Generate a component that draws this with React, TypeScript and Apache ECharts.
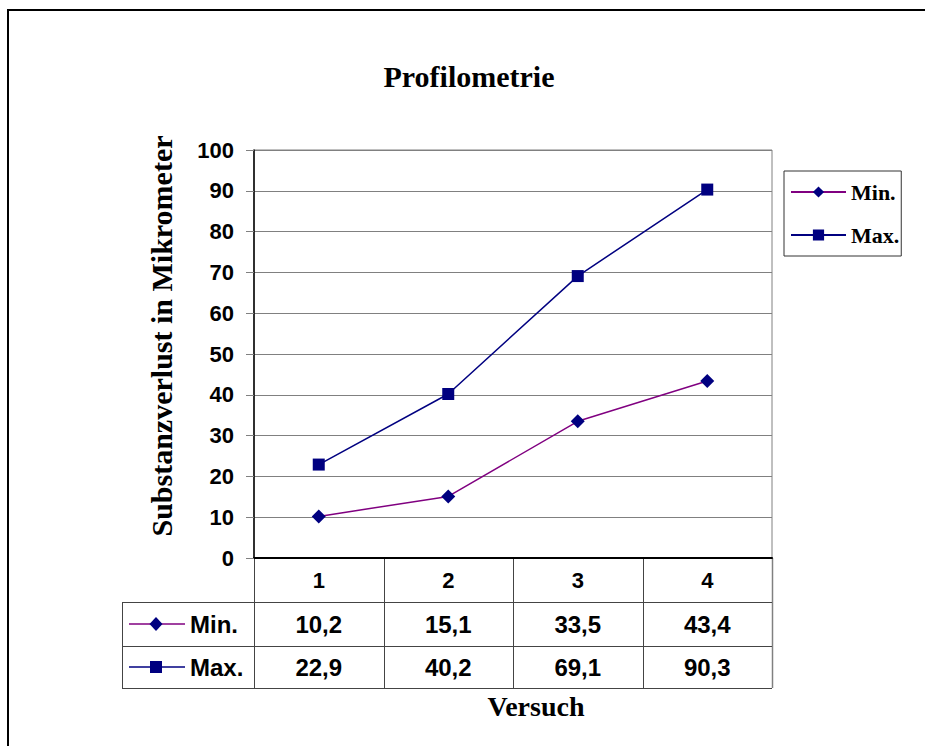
import React, { useEffect, useRef } from 'react';
import * as echarts from 'echarts';

const categories = ['1', '2', '3', '4'];
const minValues = [10.2, 15.1, 33.5, 43.4];
const maxValues = [22.9, 40.2, 69.1, 90.3];
const seriesNames = ['Min.', 'Max.'];
const titleText = 'Profilometrie';
const yAxisTitle = 'Substanzverlust in Mikrometer';
const xAxisTitle = 'Versuch';

const SERIF = '"Liberation Serif", "Times New Roman", serif';
const SANS = '"Liberation Sans", Arial, sans-serif';
const MIN_LINE = '#800080';
const NAVY = '#000080';

const fmt = (v: number) => v.toFixed(1).replace('.', ',');

export default function App() {
  const ref = useRef<HTMLDivElement>(null);
  useEffect(() => {
    const chart = echarts.init(ref.current!, null, { renderer: 'svg' });
    chart.setOption({
      animation: false,
      backgroundColor: '#fff',
      title: {
        text: titleText,
        left: 464,
        textAlign: 'center',
        top: 56,
        textStyle: { fontFamily: SERIF, fontWeight: 'bold', fontSize: 30, color: '#000' },
      },
      legend: {
        left: 784,
        top: 171,
        orient: 'vertical',
        data: seriesNames,
        itemWidth: 55,
        itemHeight: 14,
        itemGap: 21,
        padding: [10, 2, 10, 6],
        borderColor: '#333',
        borderWidth: 1,
        textStyle: { fontFamily: SERIF, fontWeight: 'bold', fontSize: 22, color: '#000' },
      },
      grid: {
        left: 254,
        right: 153,
        top: 150,
        bottom: 188,
        show: true,
        borderColor: '#808080',
        borderWidth: 1,
      },
      xAxis: {
        type: 'category',
        data: categories,
        boundaryGap: true,
        axisLine: { lineStyle: { color: '#000', width: 2 } },
        axisTick: { show: false },
        axisLabel: { fontFamily: SANS, fontWeight: 'bold', fontSize: 22, color: '#000', margin: 11 },
        splitLine: { show: false },
      },
      yAxis: {
        type: 'value',
        min: 0,
        max: 100,
        interval: 10,
        axisLine: { show: true, lineStyle: { color: '#000', width: 1.5 } },
        axisTick: { show: true, length: 8, lineStyle: { color: '#808080' } },
        axisLabel: { fontFamily: SANS, fontWeight: 'bold', fontSize: 22, color: '#000', margin: 20 },
        splitLine: { show: true, lineStyle: { color: '#808080', width: 1 } },
      },
      series: [
        {
          name: seriesNames[0],
          type: 'line',
          data: minValues,
          symbol: 'diamond',
          symbolSize: 14,
          lineStyle: { color: MIN_LINE, width: 1.5 },
          itemStyle: { color: NAVY },
        },
        {
          name: seriesNames[1],
          type: 'line',
          data: maxValues,
          symbol: 'rect',
          symbolSize: 12,
          lineStyle: { color: NAVY, width: 1.5 },
          itemStyle: { color: NAVY },
        },
      ],
    });

    const centers = categories.map((c) => chart.convertToPixel({ xAxisIndex: 0 }, c) as number);
    const band = centers[1] - centers[0];
    const yZero = chart.convertToPixel({ yAxisIndex: 0 }, 0) as number;
    const leftEdge = centers[0] - band / 2;
    const rightEdge = centers[centers.length - 1] + band / 2;
    const tableLeft = 122;
    const rowTop = [yZero + 44, yZero + 88];
    const tableBottom = yZero + 130;
    const rowCenters = [(rowTop[0] + rowTop[1]) / 2, (rowTop[1] + tableBottom) / 2];
    const gridStroke = { stroke: '#444', lineWidth: 1 };

    const g: any[] = [];
    g.push({
      type: 'rect',
      shape: { x: 8, y: 10, width: 1000, height: 1000 },
      style: { fill: 'none', stroke: '#000', lineWidth: 2 },
      silent: true,
    });
    for (let i = 0; i <= categories.length; i++) {
      const x = Math.round(leftEdge + i * band) + 0.5;
      g.push({
        type: 'line',
        shape: { x1: x, y1: yZero, x2: x, y2: tableBottom },
        style: i === categories.length ? { stroke: '#808080', lineWidth: 1.5 } : gridStroke,
      });
    }
    g.push({
      type: 'line',
      shape: { x1: tableLeft + 0.5, y1: rowTop[0], x2: tableLeft + 0.5, y2: tableBottom },
      style: gridStroke,
    });
    [rowTop[0], rowTop[1], tableBottom].forEach((y) => {
      g.push({
        type: 'line',
        shape: { x1: tableLeft, y1: Math.round(y) + 0.5, x2: rightEdge, y2: Math.round(y) + 0.5 },
        style: gridStroke,
      });
    });
    const rows = [
      { name: seriesNames[0], values: minValues, line: MIN_LINE, sym: 'diamond' },
      { name: seriesNames[1], values: maxValues, line: NAVY, sym: 'rect' },
    ];
    rows.forEach((r, ri) => {
      const cy = rowCenters[ri];
      g.push({
        type: 'line',
        shape: { x1: 129, y1: cy, x2: 185, y2: cy },
        style: { stroke: r.line, lineWidth: 1.5 },
      });
      if (r.sym === 'diamond') {
        g.push({
          type: 'polygon',
          shape: { points: [[149.5, cy], [156, cy - 7], [162.5, cy], [156, cy + 7]] },
          style: { fill: NAVY },
        });
      } else {
        g.push({ type: 'rect', shape: { x: 150, y: cy - 6, width: 12, height: 12 }, style: { fill: NAVY } });
      }
      g.push({
        type: 'text',
        x: 190,
        y: cy,
        style: {
          text: r.name,
          align: 'left',
          verticalAlign: 'middle',
          font: `bold 24px ${SANS}`,
          fill: '#000',
        },
      });
      r.values.forEach((v, i) => {
        g.push({
          type: 'text',
          x: centers[i],
          y: cy,
          style: {
            text: fmt(v),
            align: 'center',
            verticalAlign: 'middle',
            font: `bold 24px ${SANS}`,
            fill: '#000',
          },
        });
      });
    });
    g.push({
      type: 'text',
      x: 161,
      y: 336,
      rotation: Math.PI / 2,
      style: {
        text: yAxisTitle,
        align: 'center',
        verticalAlign: 'middle',
        font: `bold 30px ${SERIF}`,
        fill: '#000',
      },
    });
    g.push({
      type: 'text',
      x: 536,
      y: 706,
      style: {
        text: xAxisTitle,
        align: 'center',
        verticalAlign: 'middle',
        font: `bold 28px ${SERIF}`,
        fill: '#000',
      },
    });
    chart.setOption({ graphic: g });
    return () => chart.dispose();
  }, []);
  return (
    <div
      ref={ref}
      style={{ position: 'fixed', left: 0, top: 0, width: 925, height: 746, background: '#fff' }}
    />
  );
}
